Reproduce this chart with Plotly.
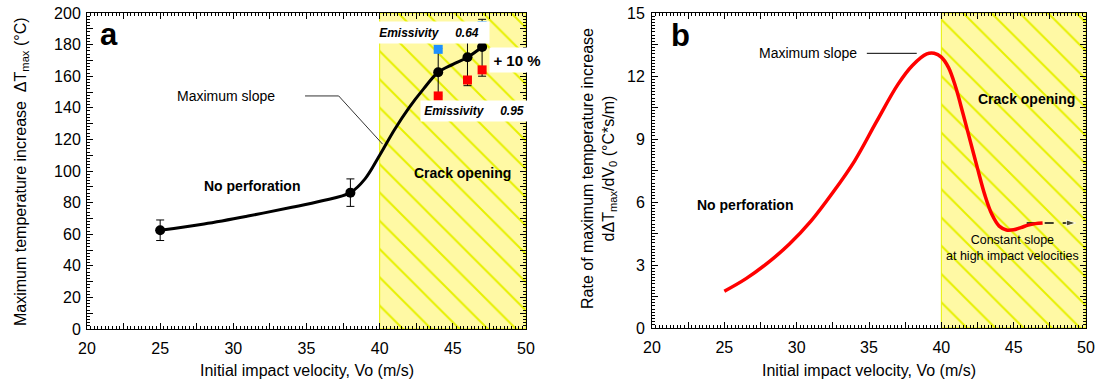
import plotly.graph_objects as go

# ---------------- data ----------------
# Panel a: measured points
v_meas = [25, 38, 44, 46, 47]
dT_meas = [62.5, 86.3, 162.5, 172, 178.5]
err_plus = [6.5, 8.7, 15, 16.6, 17.5]
err_minus = [6.5, 8.7, 15, 18, 18.5]
# emissivity bounds
v_emis = [44, 46, 47]
dT_emis_064 = [177, 185, 192]
dT_emis_095 = [147.5, 157.6, 164]
# smooth fit curve
v_fit = [25, 28, 31, 34, 36, 38, 39, 40, 41, 42, 43, 44, 45, 46, 47]
dT_fit = [62.5, 66.5, 71.5, 77, 81, 86.3, 95, 110, 126, 140, 152, 162.5, 167.5, 172, 178.5]

# Panel b: derivative curve
v_rate = [25, 26.5, 28, 29.5, 31, 32.5, 34, 35.5, 37, 38, 39, 39.5, 40, 40.5, 41,
          41.5, 42, 42.5, 43, 43.5, 44, 44.5, 45, 45.5, 46, 46.5, 47]
rate = [1.75, 2.35, 3.1, 4.0, 5.1, 6.45, 7.95, 9.8, 11.6, 12.5, 13.05, 13.08, 12.9, 12.4, 11.45,
        10.2, 8.9, 7.6, 6.35, 5.4, 4.85, 4.67, 4.68, 4.78, 4.9, 4.97, 5.0]
v_const = [45.9, 49.3]
rate_const = [5.0, 5.0]

crack_x = [40, 50, 50, 40, 40]
crack_a = [0, 0, 200, 200, 0]
crack_b = [0, 0, 15, 15, 0]

x_tickvals = [20, 22.5, 25, 27.5, 30, 32.5, 35, 37.5, 40, 42.5, 45, 47.5, 50]
x_ticktext = ["20", "", "25", "", "30", "", "35", "", "40", "", "45", "", "50"]
ya_tickvals = list(range(0, 201, 10))
ya_ticktext = [str(v) if v % 20 == 0 else "" for v in ya_tickvals]
yb_tickvals = [0, 1.5, 3, 4.5, 6, 7.5, 9, 10.5, 12, 13.5, 15]
yb_ticktext = ["0", "", "3", "", "6", "", "9", "", "12", "", "15"]

FONT = "Liberation Sans, Arial, sans-serif"
HBG = "#FFF9A4"
HFG = "#E6F000"

fig = go.Figure()

pattern = dict(shape="\\", bgcolor=HBG, fgcolor=HFG, size=20, solidity=0.1, fillmode="replace")

# crack region panel a
fig.add_trace(go.Scatter(x=crack_x, y=crack_a, fill="toself", fillcolor=HBG, fillpattern=pattern,
                         line=dict(color=HFG, width=1), mode="lines", hoverinfo="skip",
                         xaxis="x", yaxis="y", showlegend=False))
# crack region panel b
fig.add_trace(go.Scatter(x=crack_x, y=crack_b, fill="toself", fillcolor=HBG, fillpattern=pattern,
                         line=dict(color=HFG, width=1), mode="lines", hoverinfo="skip",
                         xaxis="x2", yaxis="y2", showlegend=False))

# leader line panel a
fig.add_trace(go.Scatter(x=[34.9, 37.2, 40.2], y=[147.5, 147.5, 117], mode="lines",
                         line=dict(color="#333333", width=1), xaxis="x", yaxis="y",
                         showlegend=False, hoverinfo="skip"))

# fit curve
fig.add_trace(go.Scatter(x=v_fit, y=dT_fit, mode="lines", line=dict(color="black", width=3, shape="spline"),
                         xaxis="x", yaxis="y", showlegend=False))
# measured with error bars
fig.add_trace(go.Scatter(x=v_meas, y=dT_meas, mode="markers",
                         marker=dict(color="black", size=10),
                         error_y=dict(type="data", array=err_plus, arrayminus=err_minus,
                                      color="black", thickness=1, width=4),
                         xaxis="x", yaxis="y", showlegend=False))
fig.add_trace(go.Scatter(x=v_emis, y=dT_emis_064, mode="markers",
                         marker=dict(color="#1E90FF", size=9, symbol="square"),
                         xaxis="x", yaxis="y", showlegend=False))
fig.add_trace(go.Scatter(x=v_emis, y=dT_emis_095, mode="markers",
                         marker=dict(color="#FF0000", size=9, symbol="square"),
                         xaxis="x", yaxis="y", showlegend=False))

# panel b
fig.add_trace(go.Scatter(x=v_const, y=rate_const, mode="lines+markers",
                         line=dict(color="black", width=1.5, dash="dash"),
                         marker=dict(symbol="arrow", angleref="previous", size=[0, 10], color="black"),
                         xaxis="x2", yaxis="y2", showlegend=False))
fig.add_trace(go.Scatter(x=v_rate, y=rate, mode="lines", line=dict(color="#FF0000", width=3.5, shape="spline"),
                         xaxis="x2", yaxis="y2", showlegend=False))
fig.add_trace(go.Scatter(x=[34.85, 38.3], y=[13.08, 13.08], mode="lines", line=dict(color="black", width=1),
                         xaxis="x2", yaxis="y2", showlegend=False, hoverinfo="skip"))

axis_common = dict(showline=True, linecolor="black", linewidth=1, mirror="allticks",
                   ticks="inside", ticklen=6, tickcolor="black", tickwidth=1,
                   showgrid=False, zeroline=False, automargin=False,
                   tickfont=dict(family=FONT, size=16, color="black"))

fig.update_layout(
    width=1100, height=388,
    margin=dict(l=0, r=0, t=0, b=0, pad=0, autoexpand=False),
    paper_bgcolor="white", plot_bgcolor="white",
    font=dict(family=FONT, color="black"),
    xaxis=dict(domain=[87 / 1100, 526 / 1100], range=[20, 50], tickmode="array",
               tickvals=x_tickvals, ticktext=x_ticktext, anchor="y", ticklabelstandoff=5,
               minor=dict(dtick=0.25, ticklen=3, tickcolor="black", ticks="inside"), **axis_common),
    yaxis=dict(domain=[1 - 329 / 388, 1 - 13 / 388], range=[0, 200], tickmode="array",
               tickvals=ya_tickvals, ticktext=ya_ticktext, anchor="x", ticklabelstandoff=2,
               minor=dict(dtick=2, ticklen=3, tickcolor="black", ticks="inside"), **axis_common),
    xaxis2=dict(domain=[652 / 1100, 1086 / 1100], range=[20, 50], tickmode="array",
                tickvals=x_tickvals, ticktext=x_ticktext, anchor="y2", ticklabelstandoff=5,
                minor=dict(dtick=0.25, ticklen=3, tickcolor="black", ticks="inside"), **axis_common),
    yaxis2=dict(domain=[1 - 328 / 388, 1 - 13 / 388], range=[0, 15], tickmode="array",
                tickvals=yb_tickvals, ticktext=yb_ticktext, anchor="x2", ticklabelstandoff=3,
                minor=dict(dtick=0.15, ticklen=3, tickcolor="black", ticks="inside"), **axis_common),
)

def ann(text, x, y, xref="x", yref="y", size=13, **kw):
    fig.add_annotation(text=text, x=x, y=y, xref=xref, yref=yref, showarrow=False,
                       xanchor="center", yanchor="middle",
                       font=dict(family=FONT, size=size, color="black"), **kw)

NB = "\u00a0"
# panel a annotations
ann("<b>a</b>", 21.5, 186.4, size=31)
ann("Maximum slope", 29.5, 147.5, size=14)
ann("<b>No perforation</b>", 31.3, 90.3, size=14)
ann("<b>Crack opening</b>", 45.68, 98.5, size=14)
ann("<b><i>Emissivity" + NB * 5 + "0.64</i></b>", 43.4, 187.8, size=12, bgcolor="white",
    width=118, height=19)
ann("<b><i>Emissivity" + NB * 5 + "0.95</i></b>", 46.45, 138, size=12, bgcolor="white",
    width=104, height=18)
ann("<b>+ 10 %</b>", 49.4, 170.3, size=15, bgcolor="white", width=52, height=22)

# panel b annotations
ann("<b>b</b>", 22.0, 13.95, xref="x2", yref="y2", size=31)
ann("Maximum slope", 30.75, 13.08, xref="x2", yref="y2", size=14)
ann("<b>No perforation</b>", 26.46, 5.86, xref="x2", yref="y2", size=14)
ann("<b>Crack opening</b>", 45.9, 10.9, xref="x2", yref="y2", size=14)
ann("Constant slope<br>at high impact velocities", 44.95, 3.8, xref="x2", yref="y2", size=12.5)

# axis titles
ann("Initial impact velocity, Vo (m/s)", 306.5 / 1100, 1 - 370 / 388, xref="paper", yref="paper", size=16)
ann("Initial impact velocity, Vo (m/s)", 869 / 1100, 1 - 370 / 388, xref="paper", yref="paper", size=16)
ann("Maximum temperature increase  ΔT<sub>max</sub> (°C)", 21 / 1100, 1 - 172 / 388,
    xref="paper", yref="paper", size=16, textangle=-90)
ann("Rate of maximum temperature increase<br>dΔT<sub>max</sub>/dV<sub>0</sub> (°C*s/m)",
    599 / 1100, 1 - 169 / 388, xref="paper", yref="paper", size=16, textangle=-90)

fig.write_html("out.html", config={"displayModeBar": False},
               post_script="document.body.style.margin='0px';")
